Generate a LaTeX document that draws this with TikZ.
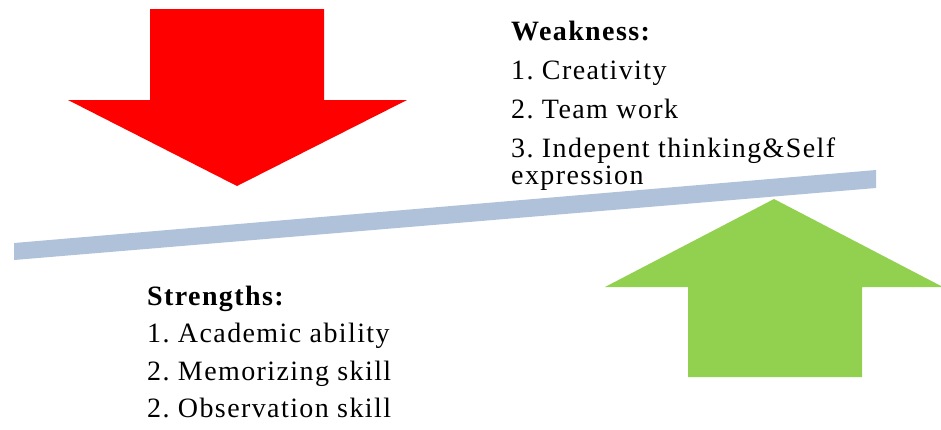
\documentclass[tikz,border=0pt]{standalone}
\usepackage{fontspec}
\setmainfont{Liberation Serif}[LetterSpace=5]
\frenchspacing
\definecolor{arrowred}{RGB}{255,0,0}
\definecolor{arrowgreen}{RGB}{146,208,80}
\definecolor{beamblue}{RGB}{176,193,218}
\tikzset{
  listtext/.style={anchor=base west,inner sep=0pt,align=left,font=\fontsize{28}{27}\selectfont},
  headtext/.style={listtext,font=\fontsize{28}{27}\selectfont\bfseries}
}
\begin{document}
\begin{tikzpicture}[x=1pt,y=1pt,yscale=-1,xscale=1]
      \useasboundingbox (0,0) rectangle (941,429);

      %Shape: Arrow Down (red)
      \fill [arrowred] (150,9) -- (324,9) -- (324,100) -- (407,100) -- (237,186) -- (68,100) -- (150,100) -- cycle ;
      %Shape: Arrow Up (green)
      \fill [arrowgreen] (688,377) -- (862,377) -- (862,287) -- (941,287) -- (941,286) -- (774,199) -- (605,287) -- (688,287) -- cycle ;
      %Shape: Beam
      \fill [beamblue] (14,243) -- (876,170) -- (876,188) -- (14,260) -- cycle ;

      % Text Node
      \node [headtext] (weak) at (511,40) {Weakness:};
      % Text Node
      \node [listtext] (w1) at (511,79) {1. Creativity};
      % Text Node
      \node [listtext] (w2) at (511,118) {2. Team work};
      % Text Node (two lines, base = last line)
      \node [listtext] (w3) at (511,184) {3. Indepent thinking\&Self\\expression};

      % Text Node
      \node [headtext] (strong) at (147,305) {Strengths:};
      % Text Node
      \node [listtext] (s1) at (147,342) {1. Academic ability};
      % Text Node
      \node [listtext] (s2) at (147,380) {2. Memorizing skill};
      % Text Node
      \node [listtext] (s3) at (147,417) {2. Observation skill};

\end{tikzpicture}
\end{document}
